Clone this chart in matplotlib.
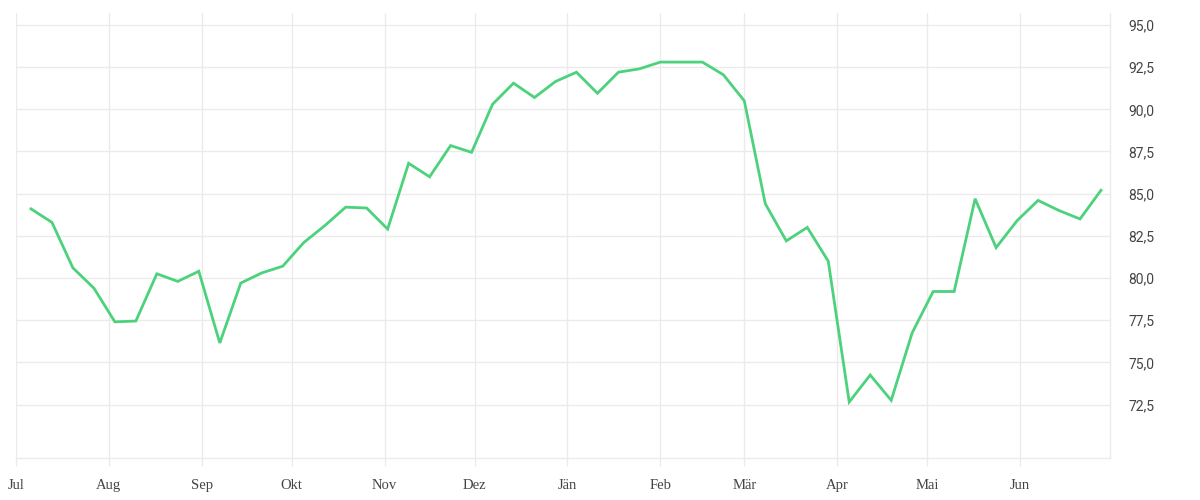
import matplotlib
matplotlib.use("Agg")
import matplotlib.pyplot as plt
import matplotlib.dates as mdates
import numpy as np
import pandas as pd

# weekly values, Jul -> Jun
start_date = "2022-07-06"
values = [
    84.1, 83.3, 80.6, 79.4, 77.4, 77.45, 80.25, 79.8, 80.4, 76.15,
    79.7, 80.3, 80.7, 82.1, 83.1, 84.2, 84.15, 82.9, 86.8, 86.0,
    87.85, 87.45, 90.3, 91.55, 90.7, 91.65, 92.2, 90.95, 92.2, 92.4,
    92.8, 92.8, 92.8, 92.05, 90.5, 84.4, 82.2, 83.0, 81.0, 72.65,
    74.25, 72.75, 76.75, 79.2, 79.2, 84.7, 81.8, 83.4, 84.6, 84.0,
    83.5, 85.2,
]
month_labels = ["Jul", "Aug", "Sep", "Okt", "Nov", "Dez",
                "Jän", "Feb", "Mär", "Apr", "Mai", "Jun"]
y_ticks = [72.5, 75.0, 77.5, 80.0, 82.5, 85.0, 87.5, 90.0, 92.5, 95.0]

dates = pd.date_range(start_date, periods=len(values), freq="7D")
month_starts = pd.date_range("2022-07-01", periods=12, freq="MS")

grid_color = "#ebebeb"
text_color = "#444444"

fig = plt.figure(figsize=(12, 5), dpi=100)
ax = fig.add_axes([0.0133, 0.084, 0.9117, 0.89])

ax.plot(dates, values, color="#4cd27c", linewidth=2.0, solid_joinstyle="miter")

ax.set_xlim(pd.Timestamp("2022-07-01"), pd.Timestamp("2023-07-01"))
ax.set_ylim(69.33, 95.71)

ax.set_xticks(month_starts)
ax.set_xticklabels(month_labels, family="Liberation Serif", fontsize=10.5,
                   color=text_color)
ax.set_yticks(y_ticks)
ax.set_yticklabels([f"{v:.1f}".replace(".", ",") for v in y_ticks],
                   family="Roboto", fontsize=10, color=text_color)

ax.yaxis.tick_right()
ax.tick_params(axis="y", length=0, pad=13)
ax.tick_params(axis="x", length=6, width=1, color=grid_color, pad=9)

ax.grid(True, color=grid_color, linewidth=1)
ax.set_axisbelow(True)

for side in ["top", "left"]:
    ax.spines[side].set_visible(False)
for side in ["bottom", "right"]:
    ax.spines[side].set_color(grid_color)
    ax.spines[side].set_linewidth(1)

fig.savefig("out.png", dpi=100)
